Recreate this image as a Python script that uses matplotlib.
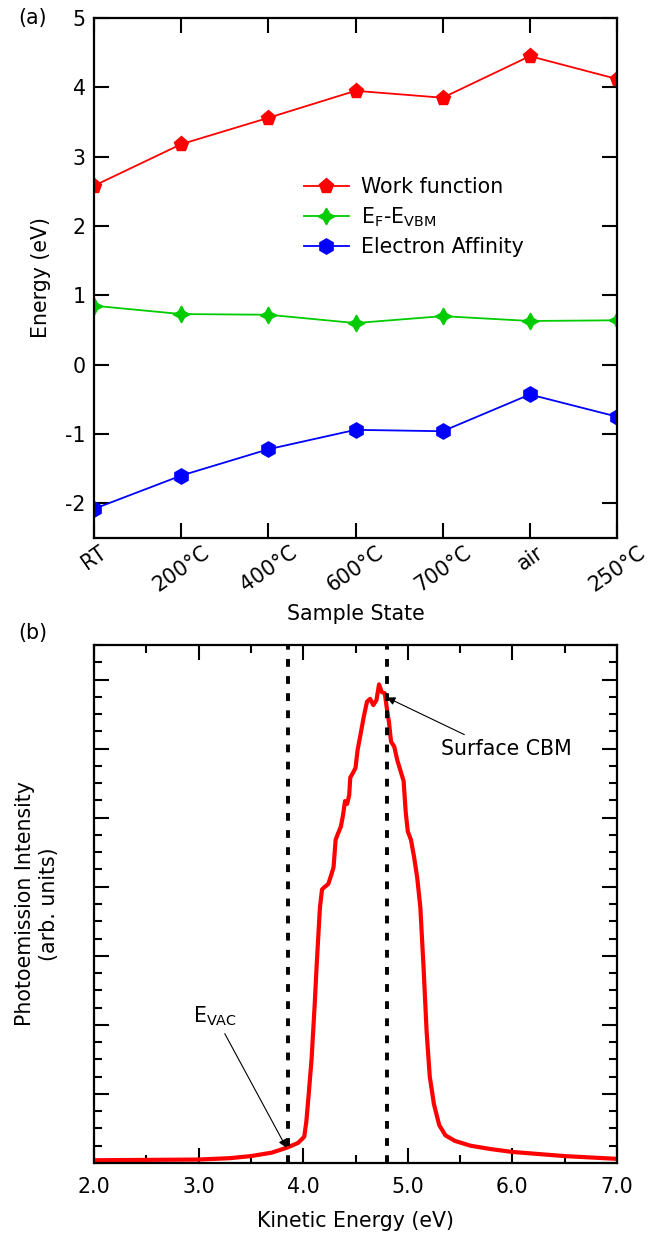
import matplotlib
matplotlib.use("Agg")
import matplotlib.pyplot as plt
from matplotlib.transforms import ScaledTranslation
import numpy as np

plt.rcParams['font.family'] = ['DejaVu Sans']
plt.rcParams['mathtext.default'] = 'regular'
plt.rcParams['axes.unicode_minus'] = False

# panel (a) data
states = ['RT', '200°C', '400°C', '600°C', '700°C', 'air', '250°C']
work_function = [2.58, 3.18, 3.56, 3.95, 3.85, 4.45, 4.12]
ef_evbm = [0.85, 0.73, 0.72, 0.60, 0.70, 0.63, 0.64]
electron_affinity = [-2.08, -1.60, -1.22, -0.94, -0.96, -0.43, -0.75]

# panel (b) data
kinetic_energy = [2.00, 2.50, 3.00, 3.30, 3.50, 3.70, 3.84, 3.95, 4.01, 4.03, 4.05,
                  4.08, 4.11, 4.13, 4.16, 4.18, 4.20, 4.24, 4.27, 4.29, 4.31, 4.33,
                  4.36, 4.38, 4.40, 4.42, 4.44, 4.45, 4.48, 4.50, 4.52, 4.55, 4.58,
                  4.61, 4.64, 4.67, 4.70, 4.725, 4.75, 4.78, 4.80, 4.82, 4.84, 4.87,
                  4.90, 4.93, 4.96, 4.98, 5.00, 5.03, 5.06, 5.09, 5.12, 5.15, 5.18,
                  5.21, 5.25, 5.30, 5.36, 5.45, 5.60, 5.80, 6.00, 6.50, 7.00]
intensity = [0.04, 0.045, 0.05, 0.07, 0.10, 0.15, 0.22, 0.29, 0.38, 0.60, 0.95,
             1.50, 2.30, 2.90, 3.70, 3.96, 3.99, 4.04, 4.18, 4.28, 4.68, 4.76,
             4.87, 5.03, 5.24, 5.20, 5.33, 5.58, 5.66, 5.72, 5.98, 6.22, 6.47,
             6.68, 6.72, 6.63, 6.70, 6.93, 6.82, 6.80, 6.58, 6.38, 6.10, 6.03,
             5.83, 5.68, 5.53, 5.08, 4.80, 4.68, 4.43, 4.13, 3.70, 2.85, 1.90,
             1.25, 0.85, 0.55, 0.40, 0.32, 0.25, 0.20, 0.16, 0.10, 0.06]
e_vac = 3.85
surface_cbm = 4.80

W, H = 648, 1243
FS = 14.8
fig = plt.figure(figsize=(W / 100, H / 100), dpi=100)

def frac(left, top, right, bottom):
    return [left / W, 1 - bottom / H, (right - left) / W, (bottom - top) / H]

ax1 = fig.add_axes(frac(94, 18, 617, 538))
ax2 = fig.add_axes(frac(94, 645, 617, 1163))

for ax in (ax1, ax2):
    for s in ax.spines.values():
        s.set_linewidth(1.6)
    ax.tick_params(which='both', direction='in', top=True, right=True, width=1.5,
                   labelsize=FS)
    ax.tick_params(which='major', length=11)

x = np.arange(len(states))
ax1.plot(x, work_function, color='#ff0000', lw=1.3, marker='p', ms=11,
         label='Work function')
ax1.plot(x, ef_evbm, color='#00cc00', lw=1.3, marker=(4, 1, 0), ms=12,
         label='E$_F$-E$_{VBM}$')
ax1.plot(x, electron_affinity, color='#0000ff', lw=1.3, marker='h', ms=11,
         label='Electron Affinity')
ax1.set_xlim(0, 6)
ax1.set_ylim(-2.5, 5)
ax1.set_xticks(x)
ax1.set_xticklabels(states, rotation=35, ha='center')
shift = ScaledTranslation(6 / 100, 0, fig.dpi_scale_trans)
for lab in ax1.get_xticklabels():
    lab.set_transform(lab.get_transform() + shift)
ax1.set_yticks(np.arange(-2, 6, 1))
ax1.tick_params(axis='x', pad=3)
ax1.tick_params(axis='y', pad=6)
ax1.set_xlabel('Sample State', fontsize=FS, labelpad=6)
ax1.set_ylabel('Energy (eV)', fontsize=FS, labelpad=10)
ax1.legend(loc='upper left', bbox_to_anchor=(0.385, 0.71), frameon=False,
           fontsize=FS, handlelength=2.2, handletextpad=0.6, labelspacing=0.4,
           borderaxespad=0)

ax2.plot(kinetic_energy, intensity, color='#ff0000', lw=3.0, solid_joinstyle='round')
ax2.axvline(e_vac, color='black', lw=2.8, linestyle=(0, (2.0, 2.4)))
ax2.axvline(surface_cbm, color='black', lw=2.8, linestyle=(0, (2.0, 2.4)))
ax2.set_xlim(2, 7)
ax2.set_ylim(0, 7.5)
ax2.set_xticks(np.arange(2, 7.1, 1))
ax2.set_xticks(np.arange(2.5, 7, 1), minor=True)
ax2.set_xticklabels(['2.0', '3.0', '4.0', '5.0', '6.0', '7.0'])
ax2.set_yticks(np.arange(0, 7.6, 1))
ax2.set_yticks(np.arange(0, 7.6, 0.25), minor=True)
ax2.set_yticklabels([])
ax2.tick_params(which='minor', length=6)
ax2.tick_params(axis='x', pad=10)
ax2.set_xlabel('Kinetic Energy (eV)', fontsize=FS, labelpad=10)
ax2.set_ylabel('Photoemission Intensity\n(arb. units)', fontsize=FS, labelpad=22)

ax2.annotate('Surface CBM', xy=(4.80, 6.74), xytext=(5.32, 6.0), fontsize=FS,
             ha='left', va='center',
             arrowprops=dict(arrowstyle='-|>', color='black', lw=0.8,
                             mutation_scale=12, relpos=(0.24, 1.0), shrinkA=2, shrinkB=0))
ax2.annotate('E$_{VAC}$', xy=(3.84, 0.22), xytext=(3.16, 2.12), fontsize=FS,
             ha='center', va='center',
             arrowprops=dict(arrowstyle='-|>', color='black', lw=0.8,
                             mutation_scale=12, relpos=(0.65, 0.0), shrinkA=2, shrinkB=0))

fig.text(18 / W, 1 - 18 / H, '(a)', fontsize=FS, ha='left', va='center')
fig.text(18 / W, 1 - 633 / H, '(b)', fontsize=FS, ha='left', va='center')

fig.savefig('out.png', dpi=100)
